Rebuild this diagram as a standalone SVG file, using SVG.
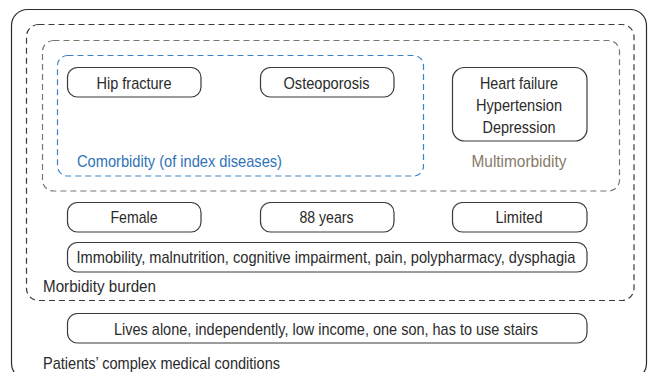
<svg xmlns="http://www.w3.org/2000/svg" width="648" height="372" viewBox="0 0 648 372">
  <style>
    .txt { font-family: "Liberation Sans", Arial, sans-serif; font-size: 17px; fill: #2b2b2b; }
    .mid { text-anchor: middle; }
    .box { fill: #ffffff; stroke: #3a3a3a; stroke-width: 1.2; }
    .dash { fill: none; stroke-width: 1.2; stroke-dasharray: 6 4; }
  </style>
  <rect width="648" height="372" fill="#ffffff"/>

  <!-- outer frame: patients' complex medical conditions -->
  <g id="patients">
    <rect x="11.5" y="9.5" width="635" height="370" rx="16" fill="none" stroke="#2b2b2b" stroke-width="1.2"/>
    <text class="txt" x="43" y="369" textLength="237" lengthAdjust="spacingAndGlyphs">Patients’ complex medical conditions</text>
  </g>

  <!-- morbidity burden -->
  <g id="morbidity-burden">
    <rect class="dash" x="26.5" y="24.5" width="607.5" height="276" rx="12" stroke="#3a3a3a"/>
    <text class="txt" x="43" y="292" textLength="113" lengthAdjust="spacingAndGlyphs">Morbidity burden</text>
  </g>

  <!-- multimorbidity -->
  <g id="multimorbidity">
    <rect class="dash" x="42.5" y="40.5" width="577" height="150.5" rx="11" stroke="#7d746b"/>
    <text class="txt mid" x="519" y="167" textLength="95" lengthAdjust="spacingAndGlyphs" style="fill:#867a6b">Multimorbidity</text>
  </g>

  <!-- comorbidity of index diseases -->
  <g id="comorbidity">
    <rect class="dash" x="57.5" y="55.5" width="366" height="120.5" rx="10" stroke="#3a83c8"/>
    <text class="txt" x="77" y="167" textLength="205" lengthAdjust="spacingAndGlyphs" style="fill:#2f73b8">Comorbidity (of index diseases)</text>
  </g>

  <g id="hip-fracture">
    <rect class="box" x="67.5" y="67.5" width="133.5" height="29.5" rx="10"/>
    <text class="txt mid" x="134" y="88.5" textLength="75" lengthAdjust="spacingAndGlyphs">Hip fracture</text>
  </g>
  <g id="osteoporosis">
    <rect class="box" x="260.5" y="67.5" width="133.5" height="29.5" rx="10"/>
    <text class="txt mid" x="326.5" y="88.5" textLength="86" lengthAdjust="spacingAndGlyphs">Osteoporosis</text>
  </g>
  <g id="other-conditions">
    <rect class="box" x="452.5" y="67.5" width="134.5" height="73.5" rx="12"/>
    <text class="txt mid" x="519" y="89" textLength="78" lengthAdjust="spacingAndGlyphs">Heart failure</text>
    <text class="txt mid" x="519" y="111" textLength="86" lengthAdjust="spacingAndGlyphs">Hypertension</text>
    <text class="txt mid" x="519" y="133" textLength="73" lengthAdjust="spacingAndGlyphs">Depression</text>
  </g>

  <g id="female">
    <rect class="box" x="67.5" y="202.5" width="133.5" height="29.5" rx="10"/>
    <text class="txt mid" x="134" y="223" textLength="47" lengthAdjust="spacingAndGlyphs">Female</text>
  </g>
  <g id="age">
    <rect class="box" x="260.5" y="202.5" width="133.5" height="29.5" rx="10"/>
    <text class="txt mid" x="326.5" y="223" textLength="54" lengthAdjust="spacingAndGlyphs">88 years</text>
  </g>
  <g id="limited">
    <rect class="box" x="452.5" y="202.5" width="134.5" height="29.5" rx="10"/>
    <text class="txt mid" x="519" y="223" textLength="47" lengthAdjust="spacingAndGlyphs">Limited</text>
  </g>
  <g id="geriatric-syndromes">
    <rect class="box" x="67.5" y="242.5" width="519.5" height="29.5" rx="10"/>
    <text class="txt mid" x="326" y="263" textLength="499" lengthAdjust="spacingAndGlyphs">Immobility, malnutrition, cognitive impairment, pain, polypharmacy, dysphagia</text>
  </g>

  <g id="social-situation">
    <rect class="box" x="67.5" y="313.5" width="519.5" height="29.5" rx="10"/>
    <text class="txt mid" x="326" y="334.5" textLength="424" lengthAdjust="spacingAndGlyphs">Lives alone, independently, low income, one son, has to use stairs</text>
  </g>

  <!-- no connectors in this figure -->
  <g id="connectors"/>
</svg>
